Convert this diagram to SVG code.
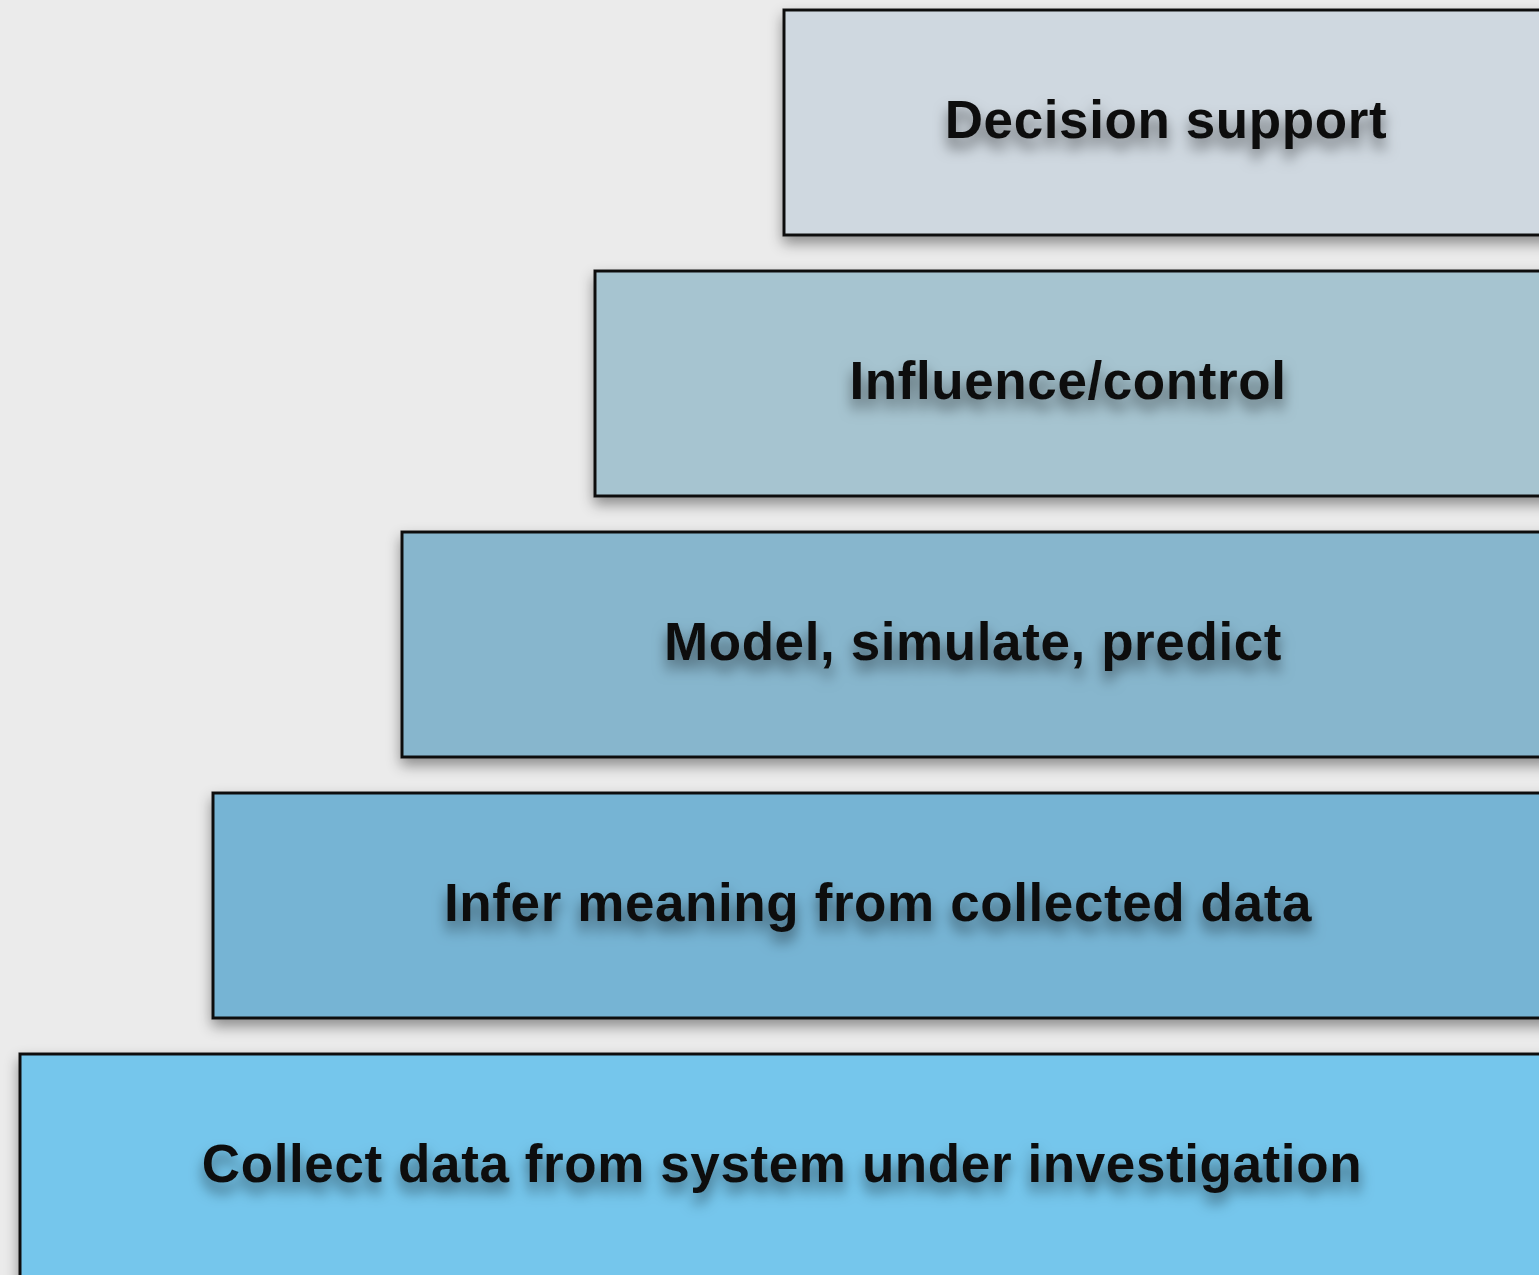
<svg xmlns="http://www.w3.org/2000/svg" width="1539" height="1275" viewBox="0 0 1539 1275">
<defs>
<filter id="boxShadow" x="-10%" y="-20%" width="120%" height="150%">
<feDropShadow dx="0" dy="7" stdDeviation="7" flood-color="#000" flood-opacity="0.4"/>
</filter>
<filter id="textShadow" x="-10%" y="-50%" width="120%" height="220%">
<feDropShadow dx="0" dy="10" stdDeviation="7" flood-color="#000" flood-opacity="0.5"/>
</filter>
</defs>
<style>
.box { stroke: #111; stroke-width: 3; filter: url(#boxShadow); }
.label { font-family: "Liberation Sans", Arial, sans-serif; font-weight: bold; font-size: 53px; letter-spacing: 0.6px; fill: #111; text-anchor: middle; filter: url(#textShadow); }
</style>
<rect x="0" y="0" width="1539" height="1275" fill="#ebebeb"/>
<g id="node-decision-support">
<rect class="box" x="784" y="10" width="770" height="225" fill="#cfd8e0"/>
<text class="label" x="1166" y="138">Decision support</text>
</g>
<g id="node-influence-control">
<rect class="box" x="595" y="271" width="960" height="225" fill="#a6c4d0"/>
<text class="label" x="1068" y="399">Influence/control</text>
</g>
<g id="node-model">
<rect class="box" x="402" y="532" width="1150" height="225" fill="#87b6cd"/>
<text class="label" x="973" y="660">Model, simulate, predict</text>
</g>
<g id="node-infer">
<rect class="box" x="213" y="793" width="1340" height="225" fill="#76b4d4"/>
<text class="label" x="878" y="921">Infer meaning from collected data</text>
</g>
<g id="node-collect">
<rect class="box" x="20" y="1054" width="1535" height="240" fill="#74c6ec"/>
<text class="label" x="782" y="1182">Collect data from system under investigation</text>
</g>
<g id="connectors"></g>
</svg>
